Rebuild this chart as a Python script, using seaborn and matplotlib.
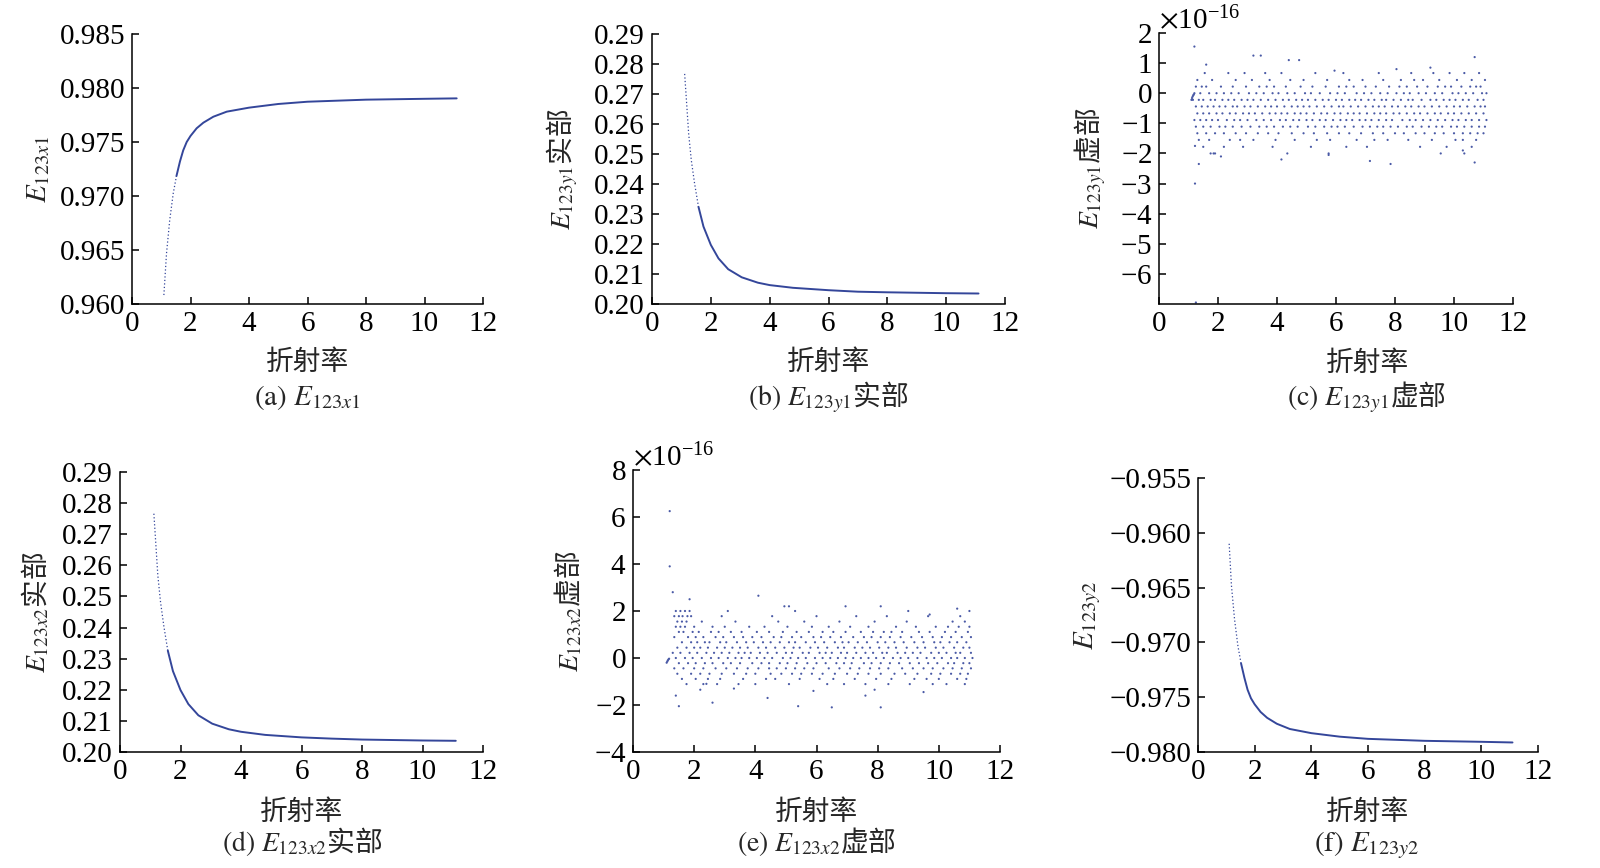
import numpy as np
import pandas as pd
import matplotlib
matplotlib.use('Agg')
import matplotlib.pyplot as plt
from matplotlib.ticker import FuncFormatter
import seaborn as sns

# ---- smooth curves, values (refractive index -> field) ----
n_a = [1.09, 1.18, 1.29, 1.41, 1.52, 1.64, 1.75, 1.87, 2.0, 2.21, 2.44, 2.78, 3.24, 4.0, 5.0,
       6.0, 8.0, 10.0, 11.1]
e_a = [0.96083, 0.96469, 0.96778, 0.97025, 0.97185, 0.97320, 0.97422, 0.97500, 0.97556, 0.97627,
       0.97679, 0.97734, 0.97781, 0.97818, 0.97852, 0.97873, 0.97892, 0.97900, 0.97904]

n_b = [1.11, 1.17, 1.245, 1.335, 1.447, 1.58, 1.75, 2.0, 2.26, 2.59, 3.05, 3.6, 4.0, 4.79, 6.0,
       7.0, 8.0, 10.0, 11.1]
e_b = [0.2767, 0.2680, 0.2569, 0.2480, 0.2402, 0.2324, 0.2258, 0.2197, 0.2152, 0.2116, 0.2089,
       0.2071, 0.2063, 0.2054, 0.2046, 0.2041, 0.2039, 0.2036, 0.2035]

n_d = [1.12, 1.18, 1.25, 1.34, 1.45, 1.58, 1.75, 2.0, 2.26, 2.59, 3.05, 3.6, 4.0, 4.8, 6.0,
       7.0, 8.0, 10.0, 11.1]
e_d = [0.2766, 0.2675, 0.2568, 0.2482, 0.2404, 0.2326, 0.2260, 0.2199, 0.2154, 0.2118, 0.2091,
       0.2073, 0.2065, 0.2055, 0.2047, 0.2043, 0.2040, 0.2037, 0.2036]

n_f = [1.10, 1.18, 1.29, 1.41, 1.52, 1.64, 1.75, 1.87, 2.0, 2.21, 2.44, 2.78, 3.24, 4.0, 5.0,
       6.0, 8.0, 10.0, 11.1]
e_f = [-0.96100, -0.96480, -0.96790, -0.97035, -0.97192, -0.97325, -0.97432, -0.97510, -0.97565,
       -0.97635, -0.97688, -0.97742, -0.97790, -0.97828, -0.97860, -0.97880, -0.97898, -0.97907,
       -0.97913]

# ---- round-off noise (units of 1e-16): rows of dots at quantised levels ----
c_levels = [0.67, 0.44, 0.22, 0.0, -0.22, -0.44, -0.67, -0.89, -1.11, -1.33, -1.55, -1.78, -2.0]
c_row_p067 = [1.55, 2.35, 2.9, 3.6, 4.15, 5.3, 6.25, 7.45, 8.55, 9.3, 9.85, 10.35, 10.85]
c_row_p044 = [1.3, 1.8, 2.6, 3.15, 3.75, 4.45, 4.9, 5.7, 6.45, 6.9, 7.6, 8.2, 8.65, 8.95, 9.5, 10.1, 10.6, 11.05]
c_row_p022 = [1.25, 1.45, 1.6, 2.1, 2.5, 2.95, 3.4, 3.65, 3.9, 4.3, 4.8, 5.2, 5.65, 6.1, 6.35, 6.6, 7.0,
              7.35, 7.8, 8.15, 8.4, 8.75, 9.1, 9.45, 9.7, 9.9, 10.25, 10.55, 10.75, 10.9]
c_row_0 = [1.2, 1.4, 1.7, 1.95, 2.2, 2.45, 2.7, 3.05, 3.3, 3.55, 3.85, 4.05, 4.35, 4.6, 4.95, 5.15, 5.45,
           5.8, 6.05, 6.3, 6.7, 6.95, 7.2, 7.5, 7.75, 8.05, 8.3, 8.5, 8.8, 9.05, 9.35, 9.6, 9.95, 10.15,
           10.4, 10.65, 10.95, 11.1]
c_row_m022 = [1.15, 1.35, 1.5, 1.75, 1.9, 2.15, 2.35, 2.55, 2.8, 3.0, 3.2, 3.45, 3.7, 3.95, 4.2, 4.4,
              4.65, 4.85, 5.05, 5.3, 5.55, 5.75, 6.0, 6.2, 6.45, 6.65, 6.85, 7.1, 7.3, 7.55, 7.7, 7.95,
              8.2, 8.45, 8.6, 8.9, 9.2, 9.4, 9.65, 9.85, 10.05, 10.3, 10.5, 10.8, 11.0]
c_row_m044 = [1.25, 1.45, 1.65, 1.85, 2.05, 2.25, 2.5, 2.65, 2.9, 3.1, 3.35, 3.6, 3.8, 4.0, 4.25, 4.5,
              4.7, 4.9, 5.1, 5.35, 5.6, 5.85, 6.1, 6.25, 6.5, 6.75, 7.0, 7.25, 7.45, 7.65, 7.9, 8.1,
              8.35, 8.55, 8.8, 9.0, 9.25, 9.5, 9.75, 10.0, 10.2, 10.45, 10.7, 10.9, 11.05]
c_row_m067 = [1.3, 1.5, 1.7, 1.95, 2.15, 2.4, 2.6, 2.85, 3.05, 3.25, 3.5, 3.75, 3.95, 4.15, 4.35, 4.6,
              4.8, 5.0, 5.25, 5.5, 5.7, 5.95, 6.15, 6.4, 6.6, 6.8, 7.05, 7.3, 7.5, 7.7, 7.95, 8.15,
              8.4, 8.65, 8.85, 9.1, 9.35, 9.55, 9.8, 10.0, 10.25, 10.5, 10.75, 11.0]
c_row_m089 = [1.2, 1.4, 1.6, 1.8, 2.0, 2.3, 2.55, 2.75, 3.0, 3.3, 3.55, 3.8, 4.1, 4.3, 4.55, 4.75, 5.0,
              5.2, 5.45, 5.65, 5.9, 6.15, 6.35, 6.55, 6.8, 7.0, 7.2, 7.45, 7.7, 7.9, 8.25, 8.5, 8.7,
              8.95, 9.2, 9.45, 9.7, 9.95, 10.15, 10.4, 10.6, 10.85, 11.1]
c_row_m111 = [1.25, 1.5, 1.75, 2.05, 2.25, 2.5, 2.8, 3.1, 3.4, 3.65, 3.9, 4.2, 4.45, 4.7, 5.05, 5.3,
              5.6, 5.85, 6.05, 6.3, 6.6, 6.9, 7.15, 7.4, 7.6, 7.85, 8.1, 8.4, 8.6, 8.9, 9.15, 9.4,
              9.6, 9.9, 10.1, 10.35, 10.6, 10.85, 11.05]
c_row_m133 = [1.3, 1.6, 1.9, 2.2, 2.6, 2.95, 3.35, 3.7, 4.05, 4.5, 4.9, 5.25, 5.7, 6.1, 6.45, 6.85,
              7.25, 7.6, 8.0, 8.3, 8.7, 9.0, 9.35, 9.65, 10.0, 10.3, 10.55, 10.8, 11.0]
c_row_m155 = [1.35, 1.7, 2.4, 2.75, 3.2, 3.95, 4.6, 5.35, 5.8, 6.7, 7.3, 7.75, 8.45, 9.25, 10.05, 10.3, 10.75]
c_row_m178 = [1.5, 2.2, 2.85, 3.85, 5.15, 6.35, 7.05, 8.85, 9.75, 10.6]
c_row_m200 = [1.75, 1.9, 4.35, 5.75, 9.55, 10.35]
c_rows = [c_row_p067, c_row_p044, c_row_p022, c_row_0, c_row_m022, c_row_m044, c_row_m067,
          c_row_m089, c_row_m111, c_row_m133, c_row_m155, c_row_m178, c_row_m200]
c_out_n = [1.10, 1.12, 1.14, 1.16, 1.18, 1.2, 1.22, 1.25, 1.6, 3.2, 3.45, 4.4, 4.75, 10.7, 1.35, 1.85,
           2.1, 4.15, 5.75, 7.15, 7.85, 10.7, 1.22, 10.3, 8.05, 9.2, 5.95]
c_out_v = [-0.22, -0.16, -0.11, -0.07, -0.04, 1.55, -3.0, -6.95, 0.95, 1.25, 1.25, 1.1, 1.1, 1.2, -2.35,
           -2.0, -2.1, -2.2, -2.05, -2.25, -2.35, -2.3, -1.75, -1.9, 0.8, 0.85, 0.75]

e_levels = [2.0, 1.78, 1.55, 1.33, 1.11, 0.89, 0.67, 0.44, 0.22, 0.0, -0.22, -0.44, -0.67, -0.89, -1.11]
e_row_p200 = [1.4, 1.55, 1.7, 1.85, 3.1, 5.3, 9.0, 11.0]
e_row_p178 = [1.35, 1.5, 1.62, 1.78, 1.9, 2.9, 4.55, 6.0, 7.3, 8.3, 9.65, 10.7]
e_row_p155 = [1.45, 1.6, 1.75, 2.25, 3.35, 4.75, 5.6, 6.75, 7.9, 8.95, 10.45, 10.85]
e_row_p133 = [1.4, 1.55, 1.7, 2.0, 2.6, 3.0, 3.8, 4.3, 5.05, 5.85, 6.4, 7.1, 7.7, 8.6, 9.25, 9.9,
              10.3, 10.65, 11.0]
e_row_p111 = [1.5, 1.65, 1.95, 2.15, 2.55, 2.8, 3.2, 3.55, 4.05, 4.45, 4.9, 5.35, 5.75, 6.2, 6.55,
              6.95, 7.45, 7.85, 8.2, 8.45, 8.8, 9.35, 9.7, 10.2, 10.55, 10.95]
e_row_p089 = [1.35, 1.8, 2.05, 2.3, 2.7, 2.95, 3.3, 3.6, 3.9, 4.2, 4.6, 4.85, 5.2, 5.5, 5.9, 6.15,
              6.45, 6.8, 7.2, 7.55, 7.8, 8.1, 8.4, 8.75, 9.1, 9.45, 9.8, 10.1, 10.4, 10.75, 11.05]
e_row_p067 = [1.6, 1.9, 2.1, 2.35, 2.5, 2.85, 3.05, 3.4, 3.7, 3.95, 4.25, 4.5, 4.8, 5.1, 5.3, 5.65,
              5.95, 6.25, 6.6, 6.85, 7.05, 7.35, 7.65, 8.0, 8.25, 8.55, 8.85, 9.2, 9.5, 9.85, 10.05,
              10.35, 10.6, 10.9]
e_row_p044 = [1.45, 1.75, 2.0, 2.2, 2.45, 2.75, 3.0, 3.25, 3.5, 3.75, 4.1, 4.35, 4.65, 4.95, 5.25,
              5.45, 5.8, 6.05, 6.35, 6.7, 6.9, 7.25, 7.5, 7.75, 8.05, 8.35, 8.6, 8.95, 9.3, 9.55, 9.9,
              10.15, 10.5, 10.8, 11.0]
e_row_p022 = [1.3, 1.55, 1.85, 2.1, 2.4, 2.65, 2.9, 3.15, 3.45, 3.65, 3.85, 4.15, 4.4, 4.7, 5.0, 5.2,
              5.55, 5.75, 6.1, 6.3, 6.5, 6.8, 7.0, 7.3, 7.6, 7.85, 8.15, 8.3, 8.65, 8.9, 9.15, 9.4,
              9.75, 10.0, 10.25, 10.55, 10.7, 11.05]
e_row_0 = [1.4, 1.7, 1.95, 2.25, 2.55, 2.8, 3.1, 3.35, 3.55, 3.8, 4.05, 4.3, 4.55, 4.9, 5.15, 5.4,
           5.65, 5.95, 6.2, 6.45, 6.7, 6.95, 7.2, 7.45, 7.7, 7.95, 8.2, 8.5, 8.75, 9.0, 9.3, 9.6,
           9.85, 10.1, 10.4, 10.6, 10.85, 11.1]
e_row_m022 = [1.5, 1.8, 2.05, 2.35, 2.6, 2.95, 3.2, 3.5, 3.9, 4.2, 4.45, 4.8, 5.05, 5.35, 5.7, 6.0,
              6.3, 6.65, 6.9, 7.15, 7.55, 7.8, 8.1, 8.4, 8.7, 9.05, 9.35, 9.65, 9.95, 10.3, 10.5,
              10.8, 11.0]
e_row_m044 = [1.35, 1.65, 2.0, 2.3, 2.7, 3.05, 3.4, 3.75, 4.1, 4.45, 4.7, 5.0, 5.3, 5.6, 5.9, 6.4,
              6.75, 7.1, 7.4, 7.75, 8.05, 8.35, 8.8, 9.15, 9.5, 9.8, 10.15, 10.45, 10.75, 11.05]
e_row_m067 = [1.45, 1.9, 2.2, 2.5, 2.9, 3.3, 3.7, 4.0, 4.5, 4.85, 5.2, 5.5, 5.85, 6.2, 6.6, 7.0,
              7.35, 7.7, 8.1, 8.55, 8.9, 9.3, 9.75, 10.05, 10.4, 10.7, 10.95]
e_row_m089 = [1.6, 2.05, 2.45, 2.85, 3.6, 4.35, 4.65, 5.45, 6.1, 6.55, 7.25, 7.95, 8.45, 9.2, 9.6,
              10.0, 10.6, 10.9]
e_row_m111 = [1.75, 2.3, 2.75, 3.45, 4.0, 5.1, 6.35, 6.9, 7.6, 8.35, 9.05, 9.8, 10.25, 10.85]
e_rows = [e_row_p200, e_row_p178, e_row_p155, e_row_p133, e_row_p111, e_row_p089, e_row_p067,
          e_row_p044, e_row_p022, e_row_0, e_row_m022, e_row_m044, e_row_m067, e_row_m089, e_row_m111]
e_out_n = [1.1, 1.12, 1.14, 1.16, 1.18, 1.2, 1.2, 1.3, 4.1, 1.4, 1.5, 2.6, 5.4, 6.5, 8.1, 7.6, 4.4,
           1.85, 4.95, 5.1, 6.95, 8.1, 10.6, 9.7, 2.2, 3.3, 5.9, 7.9, 9.5, 2.4]
e_out_v = [-0.2, -0.15, -0.1, -0.06, -0.03, 6.25, 3.9, 2.8, 2.65, -1.6, -2.05, -1.9, -2.05, -2.1,
           -2.1, -1.6, -1.7, 2.5, 2.2, 2.2, 2.2, 2.2, 2.1, 1.85, -1.35, -1.3, -1.4, -1.35, -1.45, -1.1]

line_col = '#34469a'
dot_col = '#4a5aa6'

sns.set_style('ticks')
plt.rcParams['font.family'] = ['Liberation Serif', 'Noto Sans CJK SC']
plt.rcParams['mathtext.fontset'] = 'stix'
plt.rcParams['axes.linewidth'] = 1.1
plt.rcParams['axes.edgecolor'] = 'black'
plt.rcParams['xtick.color'] = 'black'
plt.rcParams['ytick.color'] = 'black'
cjk = 'Noto Sans CJK SC'

fig = plt.figure(figsize=(16, 8.68), dpi=100)


def make_ax(left, bottom, right, top):
    # rect given in pixels of the 1600x868 canvas
    return fig.add_axes([left / 1600, 1 - bottom / 868, (right - left) / 1600, (bottom - top) / 868])


def curve_df(n, e):
    return pd.DataFrame({'n': n, 'E': e})


def noise_df(levels, rows, out_n, out_v):
    parts = [pd.DataFrame({'n': r, 'v': lv}) for lv, r in zip(levels, rows)]
    parts.append(pd.DataFrame({'n': out_n, 'v': out_v}))
    df = pd.concat(parts, ignore_index=True)
    df['v'] = df['v'] * 1e-16
    return df


def draw_curve(ax, df, k):
    # steep start is sparsely sampled -> dotted look, rest dense -> solid
    sns.lineplot(data=df.iloc[:k + 1], x='n', y='E', ax=ax, color=line_col, lw=0.9,
                 linestyle=(0, (1, 1.8)), sort=False)
    sns.lineplot(data=df.iloc[k:], x='n', y='E', ax=ax, color=line_col, lw=1.4, sort=False)


def style(ax, ylab, xlab_x, xlab_y, ylab_x, fam=None):
    sns.despine(ax=ax)
    ax.set_xlim(0, 12)
    ax.set_xticks([0, 2, 4, 6, 8, 10, 12])
    ax.tick_params(direction='in', length=5, width=1.1, labelsize=21, pad=5)
    ax.set_xlabel('折射率', fontsize=20, family=cjk)
    ax.xaxis.set_label_coords(xlab_x, xlab_y)
    if fam:
        ax.set_ylabel(ylab, fontsize=20, family=fam)
    else:
        ax.set_ylabel(ylab, fontsize=21)
    ax.yaxis.set_label_coords(ylab_x, 0.5)


def fmt(d):
    return FuncFormatter(lambda v, p: f'{v:.{d}f}'.replace('-', '\u2212'))


# (a)
ax = make_ax(132, 304, 483, 34)
draw_curve(ax, curve_df(n_a, e_a), 4)
ax.set_ylim(0.960, 0.985)
ax.set_yticks([0.960, 0.965, 0.970, 0.975, 0.980, 0.985])
ax.yaxis.set_major_formatter(fmt(3))
style(ax, r'$E_{123x1}$', 0.5, -0.16, -0.228)

# (b)
ax = make_ax(652, 304, 1005, 34)
draw_curve(ax, curve_df(n_b, e_b), 5)
ax.set_ylim(0.20, 0.29)
ax.set_yticks([0.20, 0.21, 0.22, 0.23, 0.24, 0.25, 0.26, 0.27, 0.28, 0.29])
ax.yaxis.set_major_formatter(fmt(2))
style(ax, r'$E_{123y1}$实部', 0.5, -0.16, -0.204, cjk)

# (c)
ax = make_ax(1159, 304, 1513, 33)
sns.scatterplot(data=noise_df(c_levels, c_rows, c_out_n, c_out_v), x='n', y='v', ax=ax,
                s=2.5, color=dot_col, edgecolor='none', linewidth=0)
ax.set_ylim(-7e-16, 2e-16)
ax.set_yticks([t * 1e-16 for t in [-6, -5, -4, -3, -2, -1, 0, 1, 2]])
ax.ticklabel_format(axis='y', style='sci', scilimits=(0, 0), useMathText=True)
style(ax, r'$E_{123y1}$虚部', 0.588, -0.162, -0.144, cjk)
ax.yaxis.get_offset_text().set_fontsize(21)

# (d)
ax = make_ax(120, 752, 483, 472)
draw_curve(ax, curve_df(n_d, e_d), 5)
ax.set_ylim(0.20, 0.29)
ax.set_yticks([0.20, 0.21, 0.22, 0.23, 0.24, 0.25, 0.26, 0.27, 0.28, 0.29])
ax.yaxis.set_major_formatter(fmt(2))
style(ax, r'$E_{123x2}$实部', 0.5, -0.161, -0.187, cjk)

# (e)
ax = make_ax(633, 752, 1000, 470)
sns.scatterplot(data=noise_df(e_levels, e_rows, e_out_n, e_out_v), x='n', y='v', ax=ax,
                s=2.5, color=dot_col, edgecolor='none', linewidth=0)
ax.set_ylim(-4e-16, 8e-16)
ax.set_yticks([t * 1e-16 for t in [-4, -2, 0, 2, 4, 6, 8]])
ax.ticklabel_format(axis='y', style='sci', scilimits=(0, 0), useMathText=True)
style(ax, r'$E_{123x2}$虚部', 0.5, -0.16, -0.131, cjk)
ax.yaxis.get_offset_text().set_fontsize(21)

# (f)
ax = make_ax(1198, 752, 1538, 478)
draw_curve(ax, curve_df(n_f, e_f), 4)
ax.set_ylim(-0.980, -0.955)
ax.set_yticks([-0.980, -0.975, -0.970, -0.965, -0.960, -0.955])
ax.yaxis.set_major_formatter(fmt(3))
style(ax, r'$E_{123y2}$', 0.5, -0.164, -0.279)

# captions under each panel
fig.text(307 / 1600, 0.5334, r'$\mathrm{(a)}\ E_{123x1}$', ha='center', va='baseline', fontsize=21)
fig.text(828 / 1600, 0.5334, r'$\mathrm{(b)}\ E_{123y1}$实部', ha='center', va='baseline',
         fontsize=20, family=cjk)
fig.text(1367 / 1600, 0.5334, r'$\mathrm{(c)}\ E_{123y1}$虚部', ha='center', va='baseline',
         fontsize=20, family=cjk)
fig.text(302 / 1600, 0.020, r'$\mathrm{(d)}\ E_{123x2}$实部', ha='center', va='baseline',
         fontsize=20, family=cjk)
fig.text(817 / 1600, 0.020, r'$\mathrm{(e)}\ E_{123x2}$虚部', ha='center', va='baseline',
         fontsize=20, family=cjk)
fig.text(1367 / 1600, 0.020, r'$\mathrm{(f)}\ E_{123y2}$', ha='center', va='baseline', fontsize=21)

fig.savefig('out.png', dpi=100)
